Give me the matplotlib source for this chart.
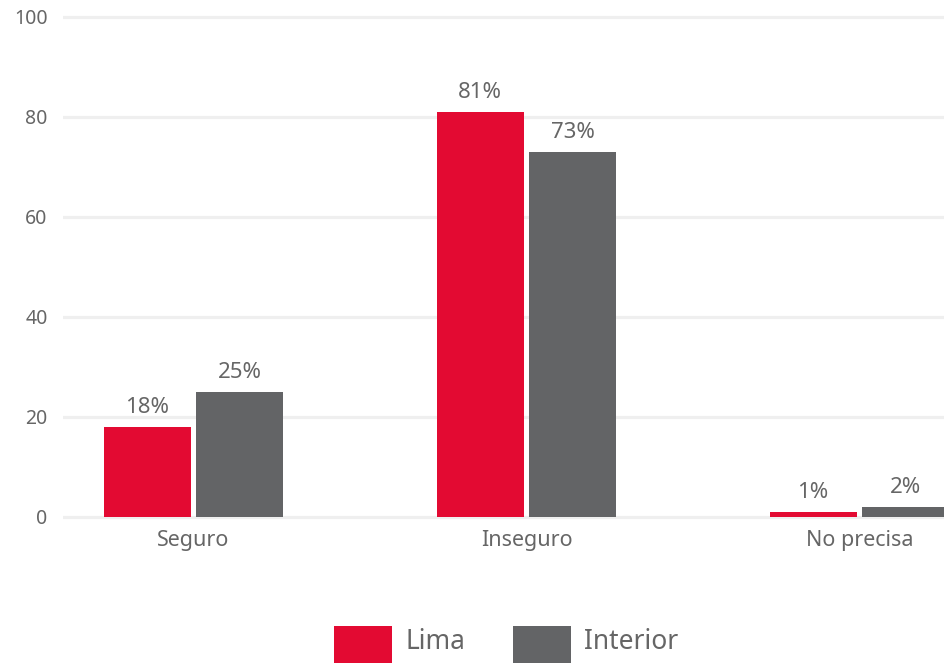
import matplotlib
matplotlib.use("Agg")
import matplotlib.pyplot as plt
import numpy as np

categories = ["Seguro", "Inseguro", "No precisa"]
series_names = ["Lima", "Interior"]
lima = [18, 81, 1]
interior = [25, 73, 2]
yticks = [0, 20, 40, 60, 80, 100]

red = "#e30a32"
gray = "#636466"
txt = "#666666"

plt.rcParams["font.family"] = ["Noto Sans", "DejaVu Sans"]

fig = plt.figure(figsize=(9.44, 6.63), dpi=100)
ax = fig.add_axes([63/944, (663-522)/663, (944-63)/944, 510/663])

x = np.arange(len(categories))
w = 0.262
off = 0.139
b1 = ax.bar(x - off, lima, w, color=red, label=series_names[0], zorder=3)
b2 = ax.bar(x + off, interior, w, color=gray, label=series_names[1], zorder=3)

for bars, vals in ((b1, lima), (b2, interior)):
    for r, v in zip(bars, vals):
        ax.annotate(f"{v}%", (r.get_x() + r.get_width()/2, r.get_height()),
                    xytext=(0, 10), textcoords="offset points",
                    ha="center", va="baseline", fontsize=16, color=txt)

ax.set_xlim(-0.392, 2.254)
ax.set_ylim(-1, 101)
ax.set_yticks(yticks)
ax.set_xticks(x)
ax.set_xticklabels(categories)
ax.tick_params(axis="both", length=0, colors=txt)
ax.tick_params(axis="y", pad=11, labelsize=14)
ax.tick_params(axis="x", pad=6, labelsize=15.5)
ax.grid(axis="y", color="#efefef", linewidth=2.3, zorder=0)
for s in ax.spines.values():
    s.set_visible(False)

leg = fig.legend(loc="upper center", bbox_to_anchor=(0.536, 1 - 626/663),
                 ncol=2, frameon=False, fontsize=19, borderpad=0, borderaxespad=0,
                 handlelength=2.2, handleheight=1.31, handletextpad=0.5,
                 columnspacing=1.8, labelcolor=txt)
# extend legend swatches downward (they run off the bottom edge in the reference)
for p in leg.legend_handles:
    p.set_y(p.get_y() - 12)
    p.set_height(p.get_height() + 12)

fig.savefig("out.png", dpi=100)
